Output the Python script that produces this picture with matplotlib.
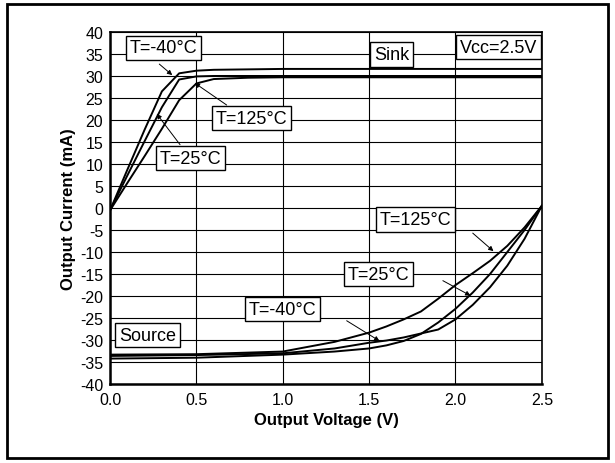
import matplotlib.pyplot as plt
from matplotlib.patches import Rectangle

plt.rcParams['font.family'] = ['Liberation Sans', 'DejaVu Sans']
plt.rcParams['axes.unicode_minus'] = False

# Sink (output low) curves
sink_v = [0.0, 0.1, 0.2, 0.3, 0.4, 0.5, 0.6, 0.8, 1.0, 1.5, 2.0, 2.5]
sink_m40 = [-0.5, 8.7, 17.8, 26.5, 30.6, 31.2, 31.4, 31.5, 31.6, 31.6, 31.6, 31.6]
sink_25 = [-0.5, 7.4, 15.2, 22.9, 29.2, 29.9, 30.0, 30.0, 30.0, 30.0, 30.0, 30.0]
sink_125 = [-0.5, 5.7, 11.8, 18.0, 24.5, 28.3, 29.3, 29.6, 29.7, 29.7, 29.7, 29.7]

# Source (output high) curves
src_v = [0.0, 0.5, 1.0, 1.3, 1.5, 1.6, 1.7, 1.8, 1.9, 2.0, 2.1, 2.2, 2.3, 2.4, 2.5]
src_m40 = [-33.6, -33.4, -33.0, -31.9, -30.6, -30.1, -29.4, -28.5, -27.6, -25.3, -22.0, -18.0, -13.1, -7.0, 0.5]
src_25 = [-34.2, -34.0, -33.3, -32.6, -31.9, -31.2, -30.2, -28.6, -26.0, -22.9, -19.2, -15.0, -10.0, -5.0, 0.5]
src_125 = [-33.3, -33.2, -32.6, -30.4, -28.3, -26.9, -25.3, -23.5, -20.6, -17.5, -14.8, -12.0, -8.6, -4.4, 0.5]

x_ticks = [0.0, 0.5, 1.0, 1.5, 2.0, 2.5]
y_ticks = list(range(-40, 41, 5))

fig = plt.figure(figsize=(6.15, 4.64), dpi=100)
ax = fig.add_axes([0.179, 0.170, 0.702, 0.759])

for ys in [sink_m40, sink_25, sink_125]:
    ax.plot(sink_v, ys, color='black', lw=1.4)
for ys in [src_m40, src_25, src_125]:
    ax.plot(src_v, ys, color='black', lw=1.4)

ax.set_xlim(0, 2.5)
ax.set_ylim(-40, 40)
ax.set_xticks(x_ticks)
ax.set_xticklabels(['%.1f' % v for v in x_ticks])
ax.set_yticks(y_ticks)
ax.tick_params(labelsize=11.5, length=0)
ax.tick_params(axis='y', pad=5)
ax.tick_params(axis='x', pad=6)
ax.grid(True, color='black', lw=0.8)
for s in ax.spines.values():
    s.set_linewidth(1.2)
ax.spines['left'].set_linewidth(1.8)
ax.spines['bottom'].set_linewidth(1.8)

ax.set_xlabel('Output Voltage (V)', fontsize=12, fontweight='bold', labelpad=3)
ax.set_ylabel('Output Current (mA)', fontsize=12, fontweight='bold', labelpad=3)

box = dict(boxstyle='square,pad=0.2', fc='white', ec='black', lw=1.0)

def label(text, xy, tip=None, start=None):
    ax.text(xy[0], xy[1], text, fontsize=13, ha='center', va='center', bbox=box, zorder=5)
    if tip is not None:
        ax.annotate('', xy=tip, xytext=start,
                    arrowprops=dict(arrowstyle='-|>', color='black', lw=0.7,
                                    mutation_scale=7, shrinkA=0, shrinkB=0), zorder=4)

label('T=-40°C', (0.31, 36.4), tip=(0.36, 30.2), start=(0.285, 32.7))
label('T=125°C', (0.817, 20.4), tip=(0.49, 28.4), start=(0.675, 23.4))
label('T=25°C', (0.467, 11.3), tip=(0.27, 21.4), start=(0.405, 14.4))
label('Sink', (1.63, 34.9))
label('Vcc=2.5V', (2.25, 36.5))
label('Source', (0.217, -28.9))
label('T=125°C', (1.77, -2.6), tip=(2.22, -9.8), start=(2.10, -5.7))
label('T=25°C', (1.556, -15.0), tip=(2.087, -19.9), start=(1.927, -16.5))
label('T=-40°C', (1.0, -23.0), tip=(1.56, -30.2), start=(1.37, -25.6))

fig.patches.append(Rectangle((7 / 615, 1 - 459 / 464), 601 / 615, 454 / 464,
                             transform=fig.transFigure, fill=False, ec='black', lw=2))

fig.savefig('out.png', dpi=100)
